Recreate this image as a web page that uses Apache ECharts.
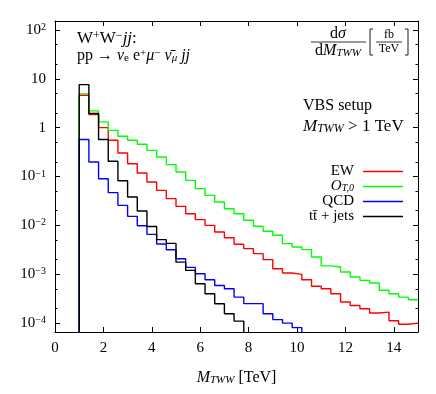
<!DOCTYPE html>
<html><head><meta charset="utf-8">
<script src="https://cdn.jsdelivr.net/npm/echarts@6/dist/echarts.min.js"></script>
<style>html,body{margin:0;padding:0;background:#fff}#c{width:436px;height:394px}</style>
</head><body><div id="c"></div>
<script>
// bin edges (TeV)
const binEdges = [0, 1.0, 1.4, 1.8, 2.2, 2.6, 3.0, 3.4, 3.8, 4.2, 4.6, 5.0, 5.4, 5.8, 6.2, 6.6, 7.0, 7.4, 7.8,
  8.2, 8.6, 9.0, 9.4, 9.8, 10.2, 10.6, 11.0, 11.4, 11.8, 12.2, 12.6, 13.0, 13.4, 13.8, 14.2, 14.6, 15.0];
// dσ/dM_TWW [fb/TeV] per bin (0 = empty / below the plotted range)
const ew = [0, 4.6, 1.85, 1.0, 0.55, 0.303, 0.183, 0.118, 0.077, 0.052, 0.0352, 0.0245, 0.0173, 0.0131, 0.0100,
  0.0073, 0.0056, 0.0041, 0.00334, 0.00264, 0.00199, 0.0013, 0.00106, 0.000995, 0.00077, 0.00057, 0.000506,
  0.0004, 0.00027, 0.00023, 0.000197, 0.000161, 0.000168, 0.000112, 0.000095, 0.0001];
const ot0 = [0, 4.9, 2.2, 1.31, 0.88, 0.665, 0.55, 0.456, 0.343, 0.25, 0.175, 0.124, 0.0835, 0.0564, 0.0411,
  0.030, 0.0219, 0.0173, 0.0127, 0.0096, 0.00757, 0.00627, 0.00423, 0.00361, 0.00319, 0.00226, 0.00148,
  0.00141, 0.00111, 0.00088, 0.00075, 0.00066, 0.00047, 0.0004, 0.00034, 0.0003];
const qcd = [0, 0.57, 0.198, 0.090, 0.0467, 0.0257, 0.0153, 0.00985, 0.00655, 0.00415, 0.00318, 0.00208,
  0.00138, 0.00102, 0.00077, 0.00059, 0.000505, 0.00034, 0.00025, 0.00025, 0.000156, 0.000118, 0.0001,
  0.000081, 0, 0, 0, 0, 0, 0, 0, 0, 0, 0, 0, 0];
const ttjets = [0, 7.6, 1.94, 0.57, 0.205, 0.082, 0.038, 0.0197, 0.0095, 0.0051, 0.00428, 0.00177, 0.0012,
  0.00064, 0.0004, 0.000249, 0.000156, 0.00011, 0, 0, 0, 0, 0, 0, 0, 0, 0, 0, 0, 0, 0, 0, 0, 0, 0, 0];
const seriesNames = ['EW', 'O_T,0', 'QCD', 'tt\u0304 + jets'];
const seriesColors = ['#ff0000', '#00ff00', '#0000ff', '#000000'];
const xTicks = [0, 2, 4, 6, 8, 10, 12, 14];
const yMajor = [1e-4, 1e-3, 1e-2, 1e-1, 1, 10, 100];
const yMinor = [2e-4, 5e-4, 2e-3, 5e-3, 2e-2, 5e-2, 0.2, 0.5, 2, 5, 20, 50];
const yMin = 6.58e-5, yMax = 152;

const FLOOR = 1e-8; // log axis cannot hold 0: empty bins drawn below the frame (clipped)
function hist(vals) {
  const d = vals.map((v, i) => [binEdges[i], v > 0 ? v : FLOOR]);
  d.push([binEdges[binEdges.length - 1], vals[vals.length - 1] > 0 ? vals[vals.length - 1] : FLOOR]);
  return d;
}
const FONT = 'Liberation Serif';
function mkRich(fs, ss) {
  return {
    r: {fontFamily: FONT, fontSize: fs, color: '#000'},
    i: {fontFamily: FONT, fontSize: fs, fontStyle: 'italic', color: '#000'},
    sup: {fontFamily: FONT, fontSize: ss, color: '#000', verticalAlign: 'top', lineHeight: ss},
    sub: {fontFamily: FONT, fontSize: ss, color: '#000', verticalAlign: 'bottom', lineHeight: ss - 1},
    subi: {fontFamily: FONT, fontSize: ss, fontStyle: 'italic', color: '#000', verticalAlign: 'bottom', lineHeight: ss - 1}
  };
}
const rich = mkRich(16, 11);
const richBig = mkRich(17, 12);
function supLabel(v) {
  const e = Math.round(Math.log10(v));
  if (e === 0) return '{b|1}';
  if (e === 1) return '{b|10}';
  return '{b|10}{s|' + (e < 0 ? '\u2212' + (-e) : e) + '}';
}
const chart = echarts.init(document.getElementById('c'), null, {renderer: 'canvas'});
const datas = [ew, ot0, qcd, ttjets];
const axisLineStyle = {color: '#000', width: 1};
function yAx(pos, ticks, len, labels, line) {
  return {
    type: 'log', logBase: 10, min: yMin, max: yMax, position: pos,
    axisLine: {show: line, lineStyle: axisLineStyle},
    axisTick: {show: true, inside: true, length: len, customValues: ticks, lineStyle: {color: '#000'}},
    axisLabel: labels ? {
      show: true, customValues: yMajor, margin: 9, formatter: supLabel,
      rich: {
        b: {fontFamily: FONT, fontSize: 15, color: '#000'},
        s: {fontFamily: FONT, fontSize: 10, color: '#000', verticalAlign: 'top', lineHeight: 10}
      }
    } : {show: false},
    splitLine: {show: false}
  };
}
const option = {
  animation: false,
  grid: {left: 55, right: 18, top: 21, bottom: 62, containLabel: false},
  xAxis: [
    {type: 'value', min: 0, max: 15, position: 'bottom',
     axisLine: {show: true, onZero: false, lineStyle: axisLineStyle},
     axisTick: {show: true, inside: true, length: 5, customValues: xTicks, lineStyle: {color: '#000'}},
     axisLabel: {customValues: xTicks, margin: 9, fontFamily: FONT, fontSize: 15, color: '#000'},
     splitLine: {show: false},
     name: '{i|M}{subi|TWW}{r| [TeV]}', nameLocation: 'middle', nameGap: 38,
     nameTextStyle: {rich: rich}},
    {type: 'value', min: 0, max: 15, position: 'top',
     axisLine: {show: true, onZero: false, lineStyle: axisLineStyle},
     axisTick: {show: true, inside: true, length: 5, customValues: xTicks, lineStyle: {color: '#000'}},
     axisLabel: {show: false}, splitLine: {show: false}}
  ],
  yAxis: [
    yAx('left', yMajor, 5, true, true),
    yAx('left', yMinor, 2.5, false, false),
    yAx('right', yMajor, 5, false, true),
    yAx('right', yMinor, 2.5, false, false)
  ],
  legend: {
    orient: 'vertical', right: 28, top: 159, align: 'right',
    icon: 'rect', itemWidth: 40, itemHeight: 1.5, itemGap: 0,
    data: seriesNames,
    formatter: function (n) {
      if (n === 'O_T,0') return '{i|O}{subi|T,0}';
      return '{r|' + n + '}';
    },
    textStyle: {padding: [0, 4, 0, 0], rich: {
      r: {fontFamily: FONT, fontSize: 15, color: '#000', lineHeight: 14},
      i: {fontFamily: FONT, fontSize: 15, fontStyle: 'italic', color: '#000', lineHeight: 14},
      subi: {fontFamily: FONT, fontSize: 10, fontStyle: 'italic', color: '#000', verticalAlign: 'bottom', lineHeight: 10}
    }}
  },
  series: datas.map((d, k) => ({
    name: seriesNames[k], type: 'line', step: 'end', data: hist(d),
    xAxisIndex: 0, yAxisIndex: 0, symbol: 'none', clip: true,
    lineStyle: {color: seriesColors[k], width: 1.4}, itemStyle: {color: seriesColors[k]},
    z: 2 + k
  })),
  graphic: [
    {type: 'text', left: 77, top: 30, style: {text: '{r|W}{sup|+}{r|W}{sup|\u2212}{i|jj}{r|:}', rich: richBig}},
    {type: 'text', left: 77, top: 48, style: {text: '{r|pp \u2192 }{i|\u03bd}{sub|e}{r| e}{sup|+}{i|\u03bc}{sup|\u2212}{i| \u03bd\u0304}{subi|\u03bc}{i| jj}', rich: rich}},
    {type: 'text', left: 303, top: 98, style: {text: '{r|VBS setup}', rich: rich}},
    {type: 'text', left: 303, top: 118, style: {text: '{i|M}{subi|TWW}{r| > 1 TeV}', rich: richBig}},
    // d sigma / d M_TWW
    {type: 'text', x: 338, y: 34, style: {text: '{r|d}{i|\u03c3}', rich: rich, align: 'center', verticalAlign: 'middle'}},
    {type: 'line', shape: {x1: 311, y1: 42, x2: 366, y2: 42}, style: {stroke: '#000', lineWidth: 0.8}},
    {type: 'text', x: 338, y: 51, style: {text: '{r|d}{i|M}{subi|TWW}', rich: rich, align: 'center', verticalAlign: 'middle'}},
    // [ fb / TeV ]
    {type: 'polyline', shape: {points: [[373, 29], [370, 29], [370, 55], [373, 55]]}, style: {stroke: '#000', lineWidth: 0.9, fill: null}},
    {type: 'polyline', shape: {points: [[405, 29], [408, 29], [408, 55], [405, 55]]}, style: {stroke: '#000', lineWidth: 0.9, fill: null}},
    {type: 'text', x: 389, y: 35, style: {text: 'fb', font: '12px "Liberation Serif"', fill: '#000', align: 'center', verticalAlign: 'middle'}},
    {type: 'line', shape: {x1: 376, y1: 42, x2: 402, y2: 42}, style: {stroke: '#000', lineWidth: 0.8}},
    {type: 'text', x: 389, y: 49, style: {text: 'TeV', font: '12px "Liberation Serif"', fill: '#000', align: 'center', verticalAlign: 'middle'}}
  ]
};
chart.setOption(option);
</script>
</body></html>
